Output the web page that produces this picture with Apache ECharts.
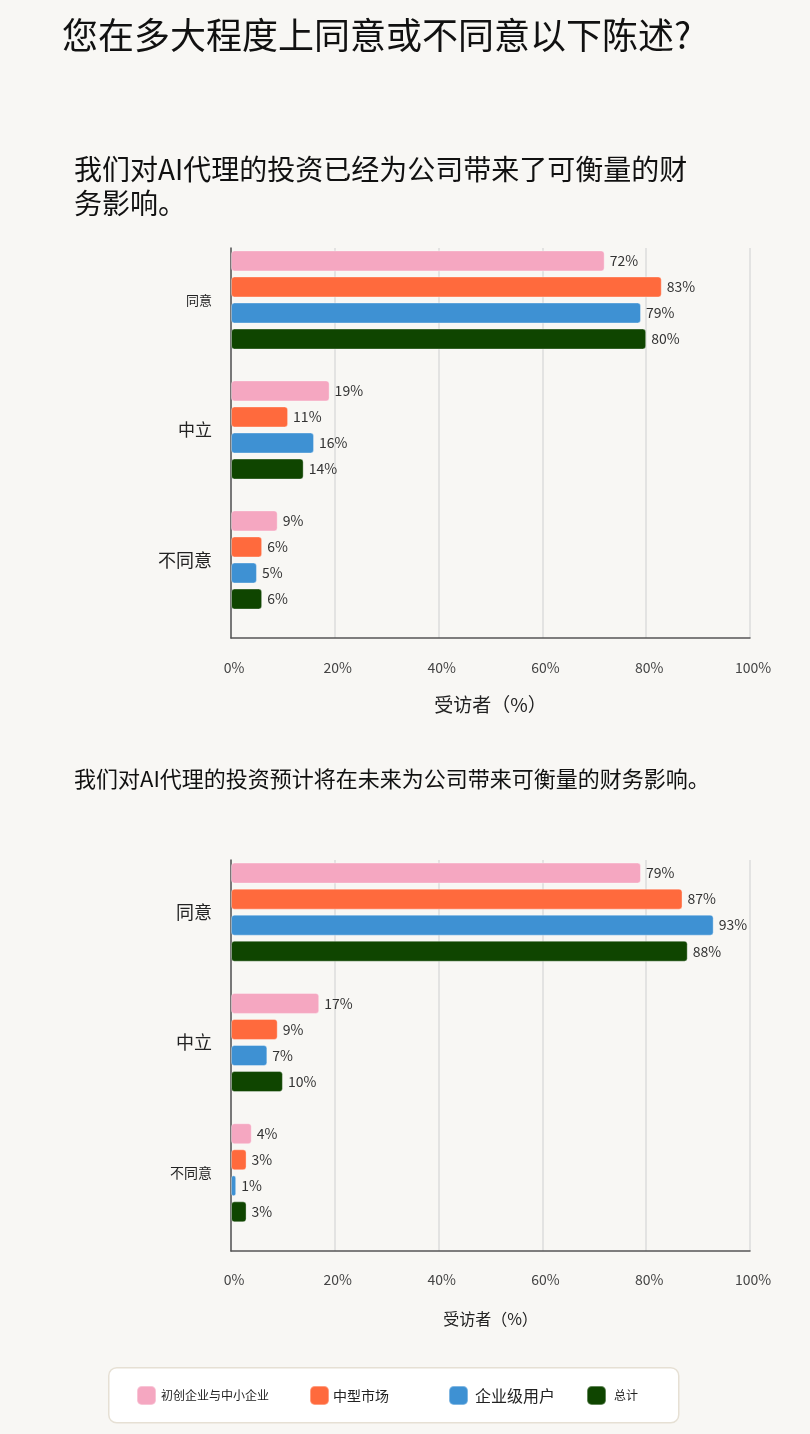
<!DOCTYPE html>
<html>
<head>
<meta charset="utf-8">
<script src="https://cdn.jsdelivr.net/npm/echarts@6/dist/echarts.min.js"></script>
<style>
html,body{margin:0;padding:0;background:#f8f7f4;}
#chart{width:810px;height:1434px;}
</style>
</head>
<body>
<div id="chart"></div>
<script>
const categories = ['同意', '中立', '不同意'];
const seriesNames = ['初创企业与中小企业', '中型市场', '企业级用户', '总计'];
const xTicks = [0, 20, 40, 60, 80, 100];

// 图1：已经带来可衡量的财务影响
const currentStartup = [72, 19, 9];
const currentMidMarket = [83, 11, 6];
const currentEnterprise = [79, 16, 5];
const currentTotal = [80, 14, 6];

// 图2：预计将在未来带来可衡量的财务影响
const futureStartup = [79, 17, 4];
const futureMidMarket = [87, 9, 3];
const futureEnterprise = [93, 7, 1];
const futureTotal = [88, 10, 3];

const mainTitle = '您在多大程度上同意或不同意以下陈述?';
const subTitle1 = '我们对AI代理的投资已经为公司带来了可衡量的财\n务影响。';
const subTitle2 = '我们对AI代理的投资预计将在未来为公司带来可衡量的财务影响。';
const axisName = '受访者（%）';

const colors = ['#F5A7C1', '#FF6A3D', '#3E91D3', '#0F4500'];
const FONT = '"Noto Sans CJK SC", "Noto Sans", sans-serif';

const chart = echarts.init(document.getElementById('chart'), null, {renderer: 'canvas'});

function catRich(sizes) {
  const rich = {};
  categories.forEach((c, i) => {
    rich['c' + i] = {fontSize: sizes[i], color: '#222', fontFamily: FONT, padding: [0, 0, 26, 0]};
  });
  return rich;
}

function makeAxes(gi, sizes, nameSize, nameGap, labelMargin) {
  const x = {
    type: 'value', gridIndex: gi, min: xTicks[0], max: xTicks[xTicks.length - 1], interval: xTicks[1] - xTicks[0],
    axisLine: {show: true, lineStyle: {color: '#555', width: 1.5}},
    axisTick: {show: false},
    splitLine: {show: true, lineStyle: {color: '#dcdcdc', width: 1.5}},
    axisLabel: {formatter: '{value}%', fontSize: 14, color: '#444', margin: labelMargin, fontFamily: FONT, padding: [0, 0, 0, 6]},
    name: axisName, nameLocation: 'middle', nameGap: nameGap,
    nameTextStyle: {fontSize: nameSize, color: '#222', fontFamily: FONT}
  };
  const y = {
    type: 'category', gridIndex: gi, data: categories, inverse: true,
    axisLine: {show: true, lineStyle: {color: '#555', width: 1.5}},
    axisTick: {show: false},
    splitLine: {show: false},
    axisLabel: {
      margin: 19,
      formatter: (v, idx) => '{c' + idx + '|' + v + '}',
      rich: catRich(sizes)
    }
  };
  return [x, y];
}

const [x0, y0] = makeAxes(0, [13, 17, 18], 19, 57, 23);
const [x1, y1] = makeAxes(1, [18, 18, 14], 16, 60, 22);

function barSeries(name, data, ci, gi) {
  return {
    name: name, type: 'bar', xAxisIndex: gi, yAxisIndex: gi, data: data,
    barWidth: 21, barGap: '24%',
    itemStyle: {color: colors[ci], borderRadius: 3, borderColor: 'rgba(255,255,255,0.35)', borderWidth: 1},
    label: {show: true, position: 'right', distance: 5, formatter: '{c}%', fontSize: 14, color: '#333', fontFamily: FONT}
  };
}
function padSeries(gi) {
  return {name: 'pad' + gi, type: 'bar', xAxisIndex: gi, yAxisIndex: gi, data: ['-', '-', '-'], barWidth: 21, barGap: '24%', silent: true};
}

const currentData = [currentStartup, currentMidMarket, currentEnterprise, currentTotal];
const futureData = [futureStartup, futureMidMarket, futureEnterprise, futureTotal];

const series = [];
currentData.forEach((d, i) => series.push(barSeries(seriesNames[i], d, i, 0)));
series.push(padSeries(0));
futureData.forEach((d, i) => series.push(barSeries(seriesNames[i], d, i, 1)));
series.push(padSeries(1));

const legendLefts = [136, 309, 448, 586];
const legendSizes = [12, 14, 16, 12];
const legendTextGap = [5, 4, 7, 8];
const legends = seriesNames.map((n, i) => ({
  data: [n], left: legendLefts[i], top: 1385, orient: 'horizontal', padding: 0,
  icon: 'roundRect', itemWidth: 19, itemHeight: 19,
  selectedMode: false,
  textStyle: {fontSize: legendSizes[i], color: '#222', fontFamily: FONT, padding: [0, 0, 0, legendTextGap[i] - 5]}
}));

chart.setOption({
  backgroundColor: '#f8f7f4',
  color: colors,
  animation: false,
  title: [{
    text: mainTitle, left: 57, top: 12,
    textStyle: {fontSize: 36, fontWeight: 'normal', color: '#111', fontFamily: FONT}
  }],
  graphic: [
    {type: 'text', left: 74, top: 152, style: {text: subTitle1, fontSize: 28, lineHeight: 34, fill: '#111', fontFamily: FONT}},
    {type: 'text', left: 74, top: 768, style: {text: subTitle2, fontSize: 22, fill: '#111', fontFamily: FONT}},
    {type: 'rect', left: 108, top: 1367, z: -1, shape: {width: 570, height: 55, r: 8}, style: {fill: '#ffffff', stroke: '#e6e0d4', lineWidth: 1.5}}
  ],
  legend: legends,
  grid: [
    {left: 231, top: 248, width: 519, height: 390},
    {left: 231, top: 860, width: 519, height: 391}
  ],
  xAxis: [x0, x1],
  yAxis: [y0, y1],
  series: series
});
</script>
</body>
</html>
